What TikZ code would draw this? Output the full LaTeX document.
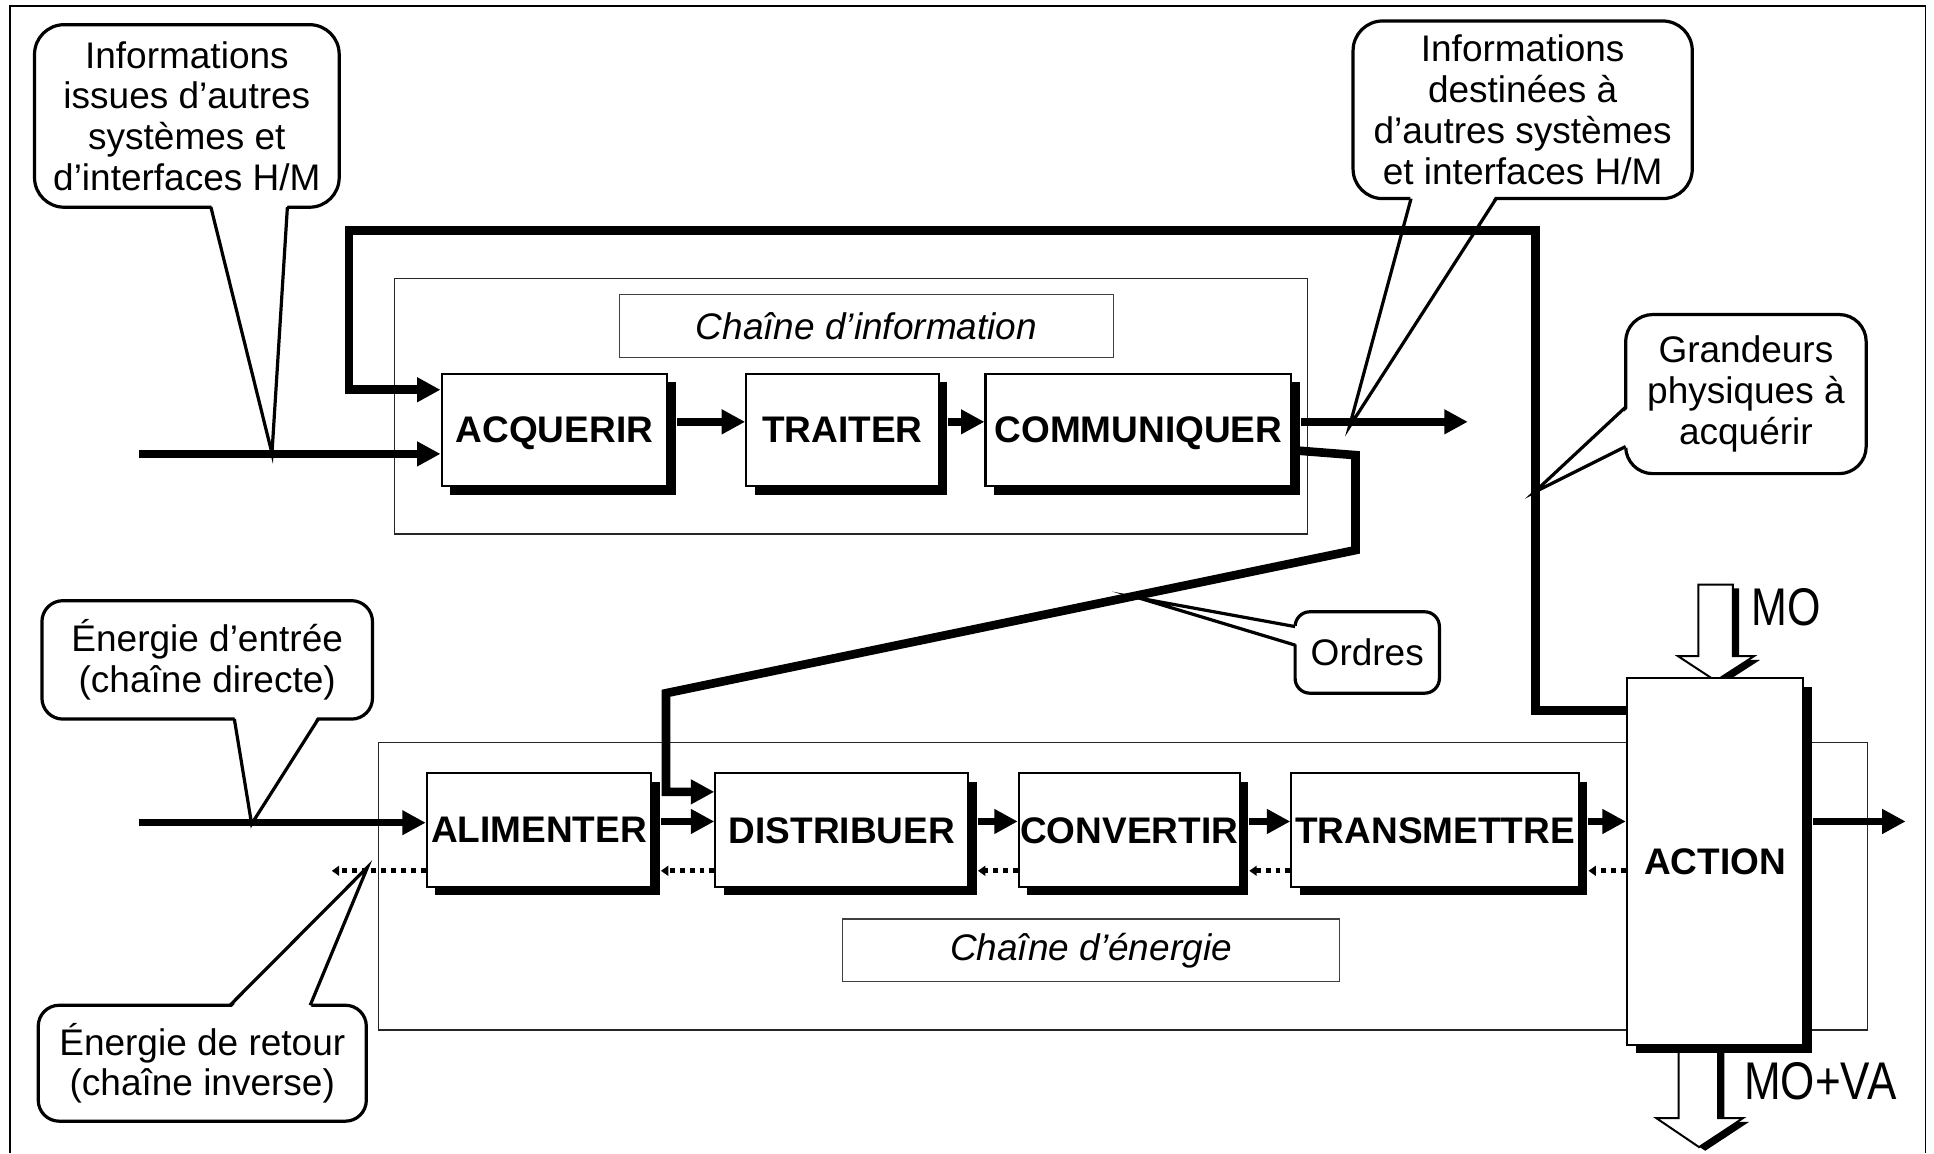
\documentclass[tikz,border=0pt]{standalone}
\usepackage{fontspec}
\setmainfont{Liberation Sans}
\usetikzlibrary{arrows.meta,calc,shadows}
\begin{document}
\begin{tikzpicture}[x=1pt,y=-1pt,
  frame/.style={line width=1.1pt, draw=black!85},
  tag/.style={draw=black!75, line width=1pt, inner sep=0pt, minimum height=51pt,
    font=\fontsize{30}{33}\selectfont\itshape},
  fbox/.style={draw, line width=1.7pt, fill=white, inner sep=0pt, text depth=0pt,
    font=\fontsize{30}{33}\selectfont\bfseries,
    general shadow={fill=black, shadow xshift=7pt, shadow yshift=-7pt}},
  bubble/.style={draw, line width=2.6pt, align=center, inner sep=0pt,
    font=\fontsize{30}{33}\selectfont},
  tail/.style={line width=2.6pt, line join=miter, miter limit=25},
  flow/.style={line width=6pt, -{Triangle[length=19pt,width=19pt]}},
  link/.style={line width=7pt, -{Triangle[length=19pt,width=19pt]}},
  back/.style={line width=4pt, dash pattern=on 4pt off 4pt,
    -{Triangle[length=6pt,width=8pt]}},
  bigarrow/.style={fill=white, draw, line width=1.6pt, line join=miter},
  narrow/.style={font=\fontsize{43}{43}\selectfont, inner sep=0pt, anchor=west}
]
\useasboundingbox (0,0) rectangle (1568,935);

% outer border (open at the bottom)
\draw[line width=1.4pt] (8,935) -- (8,5) -- (1561,5) -- (1561,935);

% the two chains
\draw[frame] (320,226) rectangle (1060,433);
\draw[frame] (307,602) rectangle (1514,835);
\node[tag, minimum width=401pt] (tinfo) at (702.5,264.5) {Chaîne d’information};
\node[tag, minimum width=403pt] (tener) at (884.5,770.5) {Chaîne d’énergie};

% callouts
\node[bubble, rounded corners=24pt, minimum width=247pt, minimum height=148pt] (c1) at (151.5,94)
  {Informations\\issues d’autres\\systèmes et\\d’interfaces H/M};
\fill[white] (171,165) -- (220.5,367.5) -- (233,165) -- cycle;
\draw[tail] (171,168) -- (220.5,367.5) -- (233,168);

\node[bubble, rounded corners=24pt, minimum width=275pt, minimum height=144pt] (c2) at (1234.5,89)
  {Informations\\destinées à\\d’autres systèmes\\et interfaces H/M};
\fill[white] (1144,158) -- (1094,346) -- (1213,158) -- cycle;
\draw[tail] (1144,161) -- (1094,346) -- (1213,161);

\node[bubble, rounded corners=22pt, minimum width=195pt, minimum height=129pt] (c3) at (1415.5,319.5)
  {Grandeurs\\physiques à\\acquérir};
\fill[white] (1321,330) -- (1244,399) -- (1321,362) -- cycle;
\draw[tail] (1318,330) -- (1244,399) -- (1318,362);

\node[bubble, rounded corners=17pt, minimum width=268pt, minimum height=96pt] (c4) at (168,535)
  {Énergie d’entrée\\(chaîne directe)};
\fill[white] (190,580) -- (204,668) -- (258,580) -- cycle;
\draw[tail] (190,583) -- (204,668) -- (258,583);

\node[bubble, rounded corners=17pt, minimum width=266pt, minimum height=94pt] (c5) at (164,862)
  {Énergie de retour\\(chaîne inverse)};
\fill[white] (186.5,818) -- (298,703) -- (251.5,818) -- cycle;
\draw[tail] (186.5,815) -- (298,703) -- (251.5,815);

\node[bubble, rounded corners=12pt, minimum width=117pt, minimum height=66pt] (c6) at (1108.5,529)
  {Ordres};
\fill[white] (1053,508) -- (924,485) -- (1053,523) -- cycle;
\draw[tail] (1050,508) -- (924,485) -- (1050,523);

% hollow arrows of the work piece (MO in, MO+VA out)
\def\moin{(1377,474) -- (1405,474) -- (1405,532) -- (1422,532) -- (1391,552) -- (1360.5,532) -- (1377,532) -- cycle}
\def\moout{(1361,840) -- (1393,840) -- (1393,906.6) -- (1413,906.6) -- (1377.5,930) -- (1343,906.6) -- (1361,906.6) -- cycle}
\fill[shift={(5,3)}] \moin;
\draw[bigarrow] \moin;
\fill[shift={(5,3)}] \moout;
\draw[bigarrow] \moout;
\node[narrow] (mo) at (1420,492) {\scalebox{0.81}[1]{MO}};
\node[narrow] (mova) at (1414,877) {\scalebox{0.83}[1]{MO+VA}};

% function blocks
\node[fbox, minimum width=183pt, minimum height=91pt] (acq)   at (449.5,348.5) {ACQUERIR};
\node[fbox, minimum width=156pt, minimum height=91pt] (trait) at (683,348.5)   {TRAITER};
\node[fbox, minimum width=248pt, minimum height=91pt] (comm)  at (923,348.5)   {COMMUNIQUER};
\node[fbox, minimum width=182pt, minimum height=92pt] (alim)  at (437,673)     {ALIMENTER};
\node[fbox, minimum width=205pt, minimum height=92pt] (dist)  at (682.5,673)   {DISTRIBUER};
\node[fbox, minimum width=179pt, minimum height=92pt] (conv)  at (915.5,673)   {CONVERTIR};
\node[fbox, minimum width=233pt, minimum height=92pt] (trans) at (1163.5,673)  {TRANSMETTRE};
\node[fbox, minimum width=143pt, minimum height=297pt] (act)  at (1390.5,698.5) {ACTION};

% free ends and bends
\coordinate (iin)  at (113,368);
\coordinate (iout) at (1190,342);
\coordinate (ein)  at (113,667);
\coordinate (eout) at (1545,666);
\coordinate (rout) at (269,706);
\coordinate (fa) at (1245,576);
\coordinate (fb) at (1245,187);
\coordinate (fc) at (283,187);
\coordinate (fd) at (283,316);
\coordinate (oa) at (1099,369);
\coordinate (ob) at (1099,446);
\coordinate (oc) at (540,562);
\coordinate (od) at (540,642);

% information chain
\draw[flow] (iin) -- (iin -| acq.west);
\draw[flow] ($(acq.east)+(7,-6.5)$) -- ($(trait.west)+(0,-6.5)$);
\draw[flow] ($(trait.east)+(7,-6.5)$) -- ($(comm.west)+(0,-6.5)$);
\draw[flow] ($(comm.east)+(7,-6.5)$) -- (iout);

% feedback from the action to the acquisition
\draw[link] (act.west |- fa) -- (fa) -- (fb) -- (fc) -- (fd) -- (fd -| acq.west);

% orders to the distribution
\draw[link] ($(comm.east)+(0,16.5)$) -- (oa) -- (ob) -- (oc) -- (od) -- (od -| dist.west);

% energy chain
\draw[flow] (ein) -- (ein -| alim.west);
\draw[flow] ($(alim.east)+(7,-7)$) -- ($(dist.west)+(0,-7)$);
\draw[flow] ($(dist.east)+(7,-7)$) -- ($(conv.west)+(0,-7)$);
\draw[flow] ($(conv.east)+(7,-7)$) -- ($(trans.west)+(0,-7)$);
\draw[flow] ($(trans.east)+(7,-7)$) -- (act.west |- 0,666);
\draw[flow] (act.east |- 0,666) ++(7,0) -- (eout);

% return energy
\draw[back] (act.west |- 0,706) -- ($(trans.east)+(7,33)$);
\draw[back] ($(trans.west)+(0,33)$) -- ($(conv.east)+(7,33)$);
\draw[back] ($(conv.west)+(0,33)$) -- ($(dist.east)+(7,33)$);
\draw[back] ($(dist.west)+(0,33)$) -- ($(alim.east)+(7,33)$);
\draw[back] ($(alim.west)+(0,33)$) -- (rout);
\end{tikzpicture}
\end{document}
